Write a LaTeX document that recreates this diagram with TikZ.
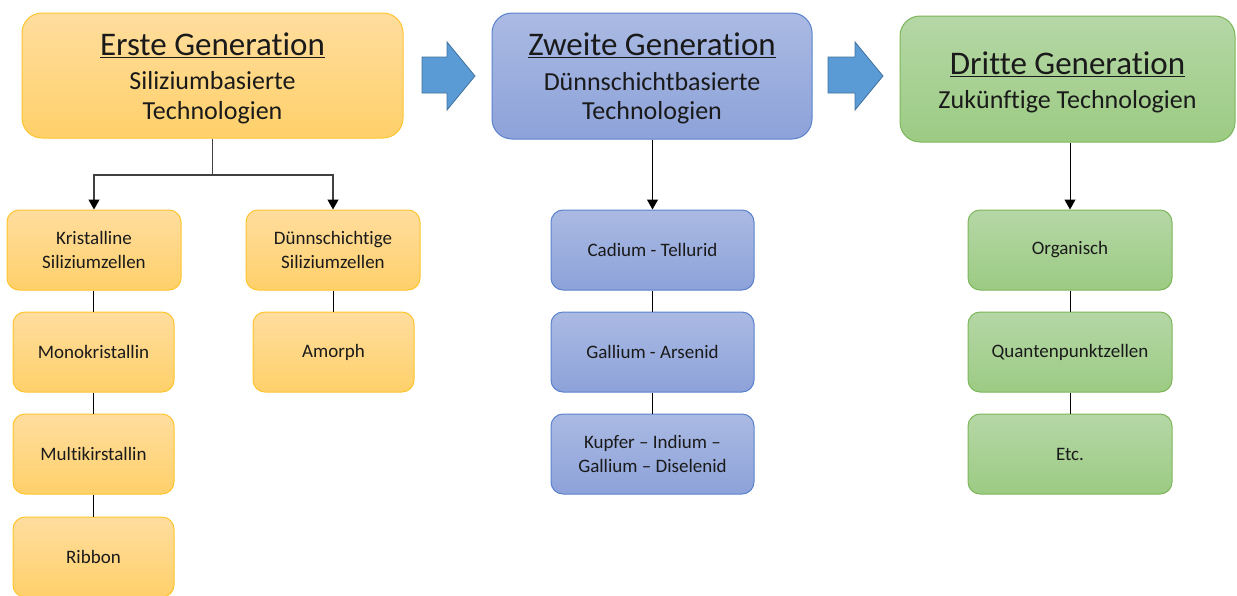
\documentclass[tikz,border=0pt]{standalone}
\usepackage{fontspec}
\setmainfont{Carlito}[Ligatures=NoCommon]
\usetikzlibrary{arrows.meta}
\definecolor{txt}{HTML}{1A1A1A}
\definecolor{otop}{HTML}{FFDD9E}
\definecolor{obot}{HTML}{FFD06A}
\definecolor{obr}{HTML}{FFC52E}
\definecolor{btop}{HTML}{AABAE3}
\definecolor{bbot}{HTML}{8DA2D9}
\definecolor{bbr}{HTML}{5A82CC}
\definecolor{gtop}{HTML}{B5D7A6}
\definecolor{gbot}{HTML}{9CCB83}
\definecolor{gbr}{HTML}{7DB65A}
\definecolor{afill}{HTML}{5B9BD5}
\definecolor{abr}{HTML}{41719C}
\definecolor{conn}{HTML}{404040}
\newcommand{\titlef}{\fontsize{33}{36}\selectfont}
\newcommand{\subf}{\fontsize{26}{29.5}\selectfont}
\tikzset{
  gen/.style={rounded corners=20pt, align=center, inner sep=0pt, text=txt, line width=1pt, font=\subf},
  small/.style={rounded corners=12pt, align=center, inner sep=0pt, text=txt, line width=1pt, minimum height=80pt, font=\fontsize{19}{24}\selectfont},
  orange/.style={draw=obr, top color=otop, bottom color=obot},
  blue/.style={draw=bbr, top color=btop, bottom color=bbot},
  green/.style={draw=gbr, top color=gtop, bottom color=gbot},
  bigarrow/.style={fill=afill, draw=abr, line width=0.8pt},
  topconn/.style={draw=conn, line width=1.3pt},
  tip/.style={-{Triangle[width=11pt,length=10pt,color=black]}},
  arr/.style={draw=black, line width=1pt, tip},
  link/.style={draw=black, line width=1pt}
}
\begin{document}
\begin{tikzpicture}[x=1pt,y=-1pt]
\useasboundingbox (0,0) rectangle (1237,595);
% top generation boxes
\node[gen, orange, minimum width=381pt, minimum height=125pt] (g1) at (212.5,75.5)
  {{\titlef\rule{0pt}{28pt}\underline{Erste Generation}}\\[5pt]{Siliziumbasierte}\\{Technologien}};
\node[gen, blue, minimum width=320pt, minimum height=126pt] (g2) at (652,76)
  {{\titlef\rule{0pt}{28pt}\underline{Zweite Generation}}\\[5pt]{Dünnschichtbasierte}\\{Technologien}};
\node[gen, green, minimum width=335pt, minimum height=126pt] (g3) at (1067.5,79)
  {{\titlef\rule{0pt}{29pt}\underline{Dritte Generation}}\\[4pt]{Zukünftige Technologien}};
% block arrows
\draw[bigarrow] (422,57) -- (447,57) -- (447,42) -- (475,76) -- (447,110) -- (447,93) -- (422,93) -- cycle;
\draw[bigarrow] (828,57) -- (855,57) -- (855,42) -- (883,76) -- (855,110) -- (855,93) -- (828,93) -- cycle;
% column 1
\node[small, orange, minimum width=174pt] (k1) at (94,250) {Kristalline\\Siliziumzellen};
\node[small, orange, minimum width=161pt] (k2) at (93.5,352) {Monokristallin};
\node[small, orange, minimum width=161pt] (k3) at (93.5,454) {Multikirstallin};
\node[small, orange, minimum width=161pt] (k4) at (93.5,557) {Ribbon};
\node[small, orange, minimum width=174pt] (d1) at (333,250) {Dünnschichtige\\Siliziumzellen};
\node[small, orange, minimum width=161pt] (d2) at (333.5,352) {Amorph};
% column 2
\node[small, blue, minimum width=203pt] (b1) at (652.5,250) {Cadium - Tellurid};
\node[small, blue, minimum width=203pt] (b2) at (652.5,352) {Gallium - Arsenid};
\node[small, blue, minimum width=203pt] (b3) at (652.5,454) {Kupfer – Indium –\\Gallium – Diselenid};
% column 3
\node[small, green, minimum width=204pt] (c1) at (1070,250) {Organisch};
\node[small, green, minimum width=204pt] (c2) at (1070,352) {Quantenpunktzellen};
\node[small, green, minimum width=204pt] (c3) at (1070,454) {Etc.};
% connectors
\coordinate (j1) at (212.5,175);
\draw[topconn] (g1.south) -- (j1);
\draw[topconn, tip] (j1) -| (k1.north);
\draw[topconn, tip] (j1) -| (d1.north);
\draw[arr] (g2.south -| b1.north) -- (b1.north);
\draw[arr] (g3.south -| c1.north) -- (c1.north);
\draw[link] (k1.south -| k2.north) -- (k2.north);
\draw[link] (k2) -- (k3);
\draw[link] (k3) -- (k4);
\draw[link] (d1.south -| d2.north) -- (d2.north);
\draw[link] (b1) -- (b2);
\draw[link] (b2) -- (b3);
\draw[link] (c1) -- (c2);
\draw[link] (c2) -- (c3);
\end{tikzpicture}
\end{document}
